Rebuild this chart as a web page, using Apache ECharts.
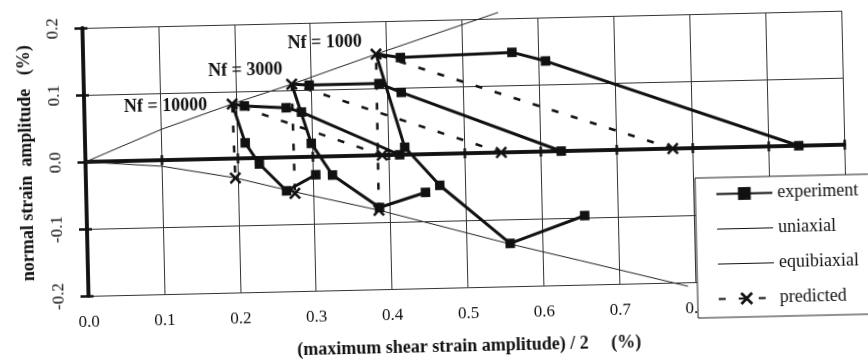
<!DOCTYPE html>
<html>
<head>
<meta charset="utf-8">
<script src="https://cdn.jsdelivr.net/npm/echarts@6/dist/echarts.min.js"></script>
<style>
html, body { margin: 0; padding: 0; background: #fff; overflow: hidden; }
#main { width: 868px; height: 363px; transform: rotate(-1.3deg); transform-origin: 50% 50%; }
</style>
</head>
<body>
<div id="main"></div>
<script>
// experiment contours: equibiaxial end -> uniaxial -> torsion
const exp10000 = [[0.303, -0.027], [0.264, -0.050], [0.229, -0.009], [0.211, 0.023], [0.195, 0.0815], [0.211, 0.078], [0.266, 0.074], [0.286, 0.067], [0.414, 0]];
const exp3000 = [[0.447, -0.057], [0.386, -0.078], [0.325, -0.028], [0.298, 0.020], [0.274, 0.109], [0.297, 0.107], [0.389, 0.107], [0.418, 0.093], [0.627, 0]];
const exp1000 = [[0.656, -0.097], [0.557, -0.136], [0.466, -0.047], [0.421, 0.011], [0.386, 0.151], [0.418, 0.145], [0.565, 0.149], [0.609, 0.135], [0.94, 0]];

// predicted: torsion -> uniaxial -> equibiaxial
const pred10000 = [[0.391, 0], [0.195, 0.0815], [0.197, -0.029]];
const pred3000 = [[0.548, 0], [0.274, 0.109], [0.275, -0.054]];
const pred1000 = [[0.774, 0], [0.386, 0.151], [0.385, -0.082]];

const uniaxial = [[0, 0], [0.101, 0.046], [0.195, 0.0815], [0.274, 0.109], [0.386, 0.151], [0.548, 0.209]];
const equibiaxial = [[0, 0], [0.1, -0.009], [0.197, -0.029], [0.275, -0.052], [0.385, -0.082], [0.557, -0.137], [0.649, -0.164], [0.79, -0.206]];

const nfNames = ['Nf = 10000', 'Nf = 3000', 'Nf = 1000'];
const legendNames = ['experiment', 'uniaxial', 'equibiaxial', 'predicted'];

const ink = '#111';
const serif = 'Liberation Serif';
const joinIndex = 4;
const xMark = 'path://M0,1.5L1.5,0L5,3.5L8.5,0L10,1.5L6.5,5L10,8.5L8.5,10L5,6.5L1.5,10L0,8.5L3.5,5Z';
const thinIcon = 'path://M0,13h100v2h-100z M0,0h0.2v0.2h-0.2z M99.8,27.8h0.2v0.2h-0.2z';
const nfLabelPlace = [
    { distance: 19, offset: [0, 1] },
    { distance: 3, offset: [0, -15] },
    { distance: 8, offset: [0, -12] }
];

const myChart = echarts.init(document.getElementById('main'));

function expSeries(points) {
    return {
        type: 'line',
        name: 'experiment',
        data: points.map((p, i) => i === joinIndex ? { value: p, symbol: 'none' } : p),
        symbol: 'rect',
        symbolSize: 9.5,
        color: ink,
        lineStyle: { width: 3, color: ink },
        itemStyle: { color: ink },
        z: 3
    };
}

function predSeries(points, k) {
    return {
        type: 'line',
        name: 'predicted',
        data: points.map((p, i) => i === 1 ? {
            value: p,
            label: {
                show: true,
                formatter: nfNames[k],
                position: 'left',
                distance: nfLabelPlace[k].distance,
                offset: nfLabelPlace[k].offset,
                fontFamily: serif,
                fontSize: 18,
                fontWeight: 'bold',
                color: ink
            }
        } : p),
        symbol: xMark,
        symbolSize: 12,
        color: ink,
        lineStyle: { width: 2.5, type: [7, 13], color: ink },
        itemStyle: { color: ink },
        z: 4
    };
}

function thinSeries(name, points) {
    return {
        type: 'line',
        name: name,
        data: points,
        symbol: 'none',
        clip: false,
        color: ink,
        lineStyle: { width: 1, color: '#222' },
        z: 2
    };
}

const zeroAxis = (pos) => ({
    type: 'value', min: 0, max: 1, interval: 0.1, position: pos,
    axisLine: { show: true, onZero: true, lineStyle: { color: ink, width: 3.5 } },
    axisTick: { show: true, length: 5, lineStyle: { color: ink, width: 2.5 } },
    axisLabel: { show: false },
    splitLine: { show: false }
});

const option = {
    animation: false,
    grid: { left: 86, top: 20, width: 759, height: 268, containLabel: false, outerBoundsMode: 'none' },
    legend: {
        orient: 'vertical',
        left: 695,
        top: 184,
        itemWidth: 56,
        itemHeight: 16,
        itemGap: 17,
        padding: [7.5, 45, 9.5, 20],
        backgroundColor: '#fff',
        borderColor: '#222',
        borderWidth: 1,
        borderRadius: 0,
        selectedMode: false,
        symbolKeepAspect: false,
        textStyle: { fontFamily: serif, fontSize: 18, lineHeight: 16, color: ink },
        data: [
            legendNames[0],
            { name: legendNames[1], icon: thinIcon },
            { name: legendNames[2], icon: thinIcon },
            legendNames[3]
        ]
    },
    xAxis: [
        {
            type: 'value', min: 0, max: 1, interval: 0.1, position: 'bottom',
            axisLine: { show: false, onZero: false },
            axisTick: { show: false },
            axisLabel: { margin: 18, fontFamily: serif, fontSize: 17, color: ink, formatter: v => v.toFixed(1) },
            splitLine: { show: true, lineStyle: { color: '#333', width: 1 } },
            name: '(maximum shear strain amplitude) / 2     (%)',
            nameLocation: 'middle',
            nameGap: 50,
            nameTextStyle: { fontFamily: serif, fontSize: 18, fontWeight: 'bold', color: ink }
        },
        zeroAxis('bottom'),
        zeroAxis('top')
    ],
    yAxis: [
        {
            type: 'value', min: -0.2, max: 0.2, interval: 0.1, position: 'left',
            axisLine: { show: true, onZero: false, lineStyle: { color: ink, width: 3.5 } },
            axisTick: { show: true, length: 8, lineStyle: { color: ink, width: 2.5 } },
            axisLabel: { rotate: 90, margin: 21, fontFamily: serif, fontSize: 17, color: ink, formatter: v => v.toFixed(1) },
            splitLine: { show: true, lineStyle: { color: '#333', width: 1 } },
            name: 'normal strain  amplitude   (%)',
            nameLocation: 'middle',
            nameGap: 50,
            nameTextStyle: { fontFamily: serif, fontSize: 18, fontWeight: 'bold', color: ink }
        },
        {
            type: 'value', min: -0.2, max: 0.2, interval: 0.1, position: 'right',
            axisLine: { show: true, onZero: true, lineStyle: { color: ink, width: 3.5 } },
            axisTick: { show: true, length: 5, lineStyle: { color: ink, width: 2.5 } },
            axisLabel: { show: false },
            splitLine: { show: false }
        }
    ],
    series: [
        thinSeries('uniaxial', uniaxial),
        thinSeries('equibiaxial', equibiaxial),
        expSeries(exp10000),
        expSeries(exp3000),
        expSeries(exp1000),
        predSeries(pred10000, 0),
        predSeries(pred3000, 1),
        predSeries(pred1000, 2)
    ]
};

myChart.setOption(option);
</script>
</body>
</html>
